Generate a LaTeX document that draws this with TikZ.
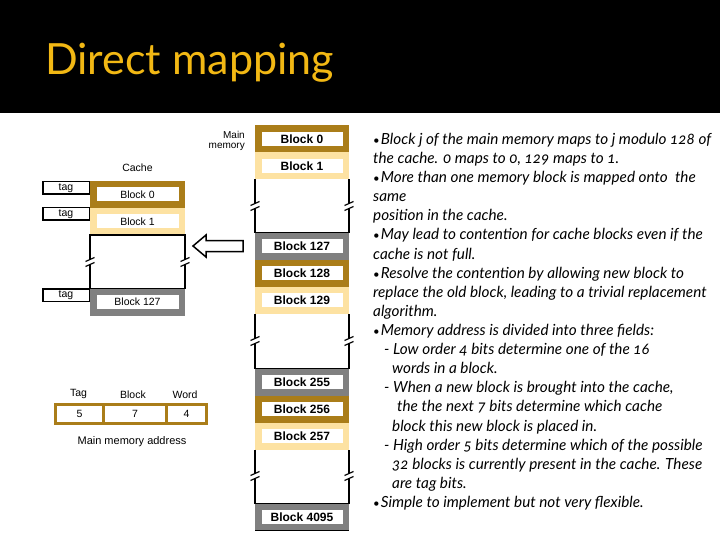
\documentclass[tikz,border=0pt]{standalone}
\usepackage{fontspec}
\setmainfont{Liberation Sans}
\newfontfamily\notefont[Numbers=OldStyle]{Lato}
\newfontfamily\titlefont{Lato}
\usetikzlibrary{positioning}
\definecolor{blkgold}{RGB}{170,125,25}
\definecolor{blkcream}{RGB}{253,226,162}
\definecolor{blkgray}{RGB}{128,128,128}
\definecolor{titlegold}{RGB}{242,184,20}
\newcommand{\bul}{\scalebox{0.75}{\textbullet}\hspace{1pt}}
% break in a column side line at (x,y)
\newcommand{\gapbreak}[2]{%
\fill[white] (#1-2.5,#2-3) rectangle (#1+2.5,#2+3);
\draw[line width=1.2pt] (#1-4.5,#2-0.5) -- (#1+4.5,#2-4.5);
\draw[line width=1.2pt] (#1-4.5,#2+4.5) -- (#1+4.5,#2+0.5);}

\begin{document}
\begin{tikzpicture}[x=1pt,y=-1pt,
memblk/.style={draw=#1,line width=6.5pt,fill=white,minimum width=87.5pt,minimum height=20.5pt,inner sep=0pt,font=\fontsize{12}{12}\selectfont\bfseries},
cacheblk/.style={memblk=#1,minimum width=88.5pt,font=\fontsize{10.5}{12}\selectfont},
tagbox/.style={draw,line width=1.5pt,minimum width=46.5pt,minimum height=12.5pt,inner sep=0pt,font=\fontsize{10.5}{11}\selectfont},
field/.style={draw=blkgold,line width=3pt,fill=white,minimum height=19pt,inner sep=0pt,outer sep=0pt,font=\fontsize{10.5}{11}\selectfont},
small/.style={inner sep=1pt,font=\fontsize{10.5}{11}\selectfont},
gapline/.style={draw,line width=1.5pt},
note/.style={anchor=base west,inner sep=0pt,font=\notefont\itshape\fontsize{15.3}{15.3}\selectfont}]
\useasboundingbox (0,0) rectangle (720,540);
\fill[black] (0,0) rectangle (720,113);
\node[anchor=base west,inner sep=0pt,text=titlegold,font=\titlefont\fontsize{43}{43}\selectfont] (title) at (45,75) {Direct mapping};

% main memory column
\foreach \n/\y/\c in {0/139/blkgold,1/166/blkcream,127/246/blkgray,128/273/blkgold,129/300/blkcream,
255/382/blkgray,256/409/blkgold,257/436/blkcream,4095/517/blkgray}{
\node[memblk=\c] (m\n) at (302,\y) {Block \n};
}
\foreach \ya/\yb/\ym in {179.5/232.5/206,313.5/368.5/341,449.5/503.5/476}{
\draw[gapline] (255,\ya) -- (255,\yb) -- (349,\yb) -- (349,\ya);
\gapbreak{255}{\ym}
\gapbreak{349}{\ym}
}
\draw[line width=1.5pt] (255,530.5) -- (349,530.5);
\node[small,anchor=east,align=right,font=\fontsize{10}{10.5}\selectfont] (mainlbl) at (246,141) {Main\\memory};

% cache
\node[small] (cachelbl) at (137.5,168) {Cache};
\node[cacheblk=blkgold] (c0) at (137.5,194.5) {Block 0};
\node[cacheblk=blkcream] (c1) at (137.5,221.5) {Block 1};
\node[cacheblk=blkgray] (c127) at (137.5,302) {Block 127};
\draw[gapline] (90,235) rectangle (185,288.5);
\gapbreak{90}{262}
\gapbreak{185}{262}
\node[tagbox] (t0) at (66,188) {tag};
\node[tagbox] (t1) at (66,214) {tag};
\node[tagbox] (t127) at (66,295) {tag};

% hollow arrow
\draw[line width=1.5pt,fill=white] (193,246) -- (206,235) -- (206,240.5) -- (243,240.5)
-- (243,251.5) -- (206,251.5) -- (206,257) -- cycle;

% address fields
\node[field,minimum width=48pt] (ftag) at (79.5,414) {5};
\node[field,minimum width=63pt,right=0pt of ftag] (fblk) {7};
\node[field,minimum width=40pt,right=0pt of fblk] (fword) {4};
\node[small,above=5pt of ftag,xshift=-1pt] (ltag) {Tag};
\node[small,above=5pt of fblk,xshift=-2pt] (lblk) {Block};
\node[small,above=5pt of fword,xshift=-1.5pt] (lword) {Word};
\node[small,font=\fontsize{11}{12}\selectfont] (addr) at (132,442) {Main memory address};

% notes
\foreach \dx/\txt [count=\i from 0] in {
0/{\bul Block j of the main memory maps to j modulo 128 of},
0/{the cache. 0 maps to 0, 129 maps to 1.},
0/{\bul More than one memory block is mapped onto\ \ the},
0/{same},
0/{position in the cache.},
0/{\bul May lead to contention for cache blocks even if the},
0/{cache is not full.},
0/{\bul Resolve the contention by allowing new block to},
0/{replace the old block, leading to a trivial replacement},
0/{algorithm.},
0/{\bul Memory address is divided into three fields:},
11/{- Low order 4 bits determine one of the 16},
19/{words in a block.},
11/{- When a new block is brought into the cache,},
24/{the the next 7 bits determine which cache},
19/{block this new block is placed in.},
11/{- High order 5 bits determine which of the possible},
19/{32 blocks is currently present in the cache. These},
19/{are tag bits.},
0/{\bul Simple to implement but not very flexible.}}{
\node[note] (note\i) at (373+\dx,144.5+19.1*\i) {\txt};
}
\end{tikzpicture}
\end{document}
